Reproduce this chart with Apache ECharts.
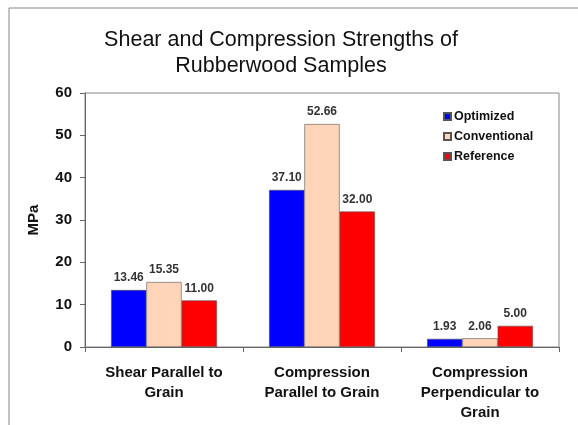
<!DOCTYPE html>
<html><head><meta charset="utf-8">
<script src="https://cdn.jsdelivr.net/npm/echarts@6/dist/echarts.min.js"></script>
<style>html,body{margin:0;padding:0;background:#fff}#c{width:578px;height:425px}</style>
</head><body><div id="c"></div>
<script>
const categories = ["Shear Parallel to\nGrain", "Compression\nParallel to Grain", "Compression\nPerpendicular to\nGrain"];
const optimized = [13.46, 37.10, 1.93];
const conventional = [15.35, 52.66, 2.06];
const reference = [11.00, 32.00, 5.00];
const seriesNames = ["Optimized", "Conventional", "Reference"];
const colors = ["#0000FF", "#FFD4B8", "#FF0000"];

const F = 'Liberation Sans, Arial';
const chart = echarts.init(document.getElementById('c'), null, {renderer: 'canvas'});
const lbl = {show: true, position: 'top', distance: 6, fontFamily: F, fontSize: 12, fontWeight: 'bold', color: '#333', formatter: p => p.value.toFixed(2)};
function mk(name, data, color) {
  return {name, type: 'bar', data, barGap: '0%', barCategoryGap: '33%',
    itemStyle: {color, borderColor: '#555', borderWidth: 0.6}, label: lbl};
}
chart.setOption({
  animation: false,
  backgroundColor: '#fff',
  title: {text: 'Shear and Compression Strengths of\nRubberwood Samples', left: 276, top: 22, textAlign: 'center',
    textStyle: {fontFamily: F, fontSize: 21.5, fontWeight: 'normal', color: '#111', lineHeight: 26}},
  graphic: [{type: 'rect', shape: {x: 9, y: 8, width: 600, height: 450}, style: {fill: 'none', stroke: '#888', lineWidth: 1}, silent: true}],
  legend: {orient: 'vertical', left: 438, top: 105, itemWidth: 7, itemHeight: 7, itemGap: 7,
    data: seriesNames, icon: 'rect',
    textStyle: {fontFamily: F, fontSize: 12.5, fontWeight: 'bold', color: '#111', padding: [0, 0, 0, -2]}},
  grid: {left: 85, top: 93, width: 474, height: 254, show: true, borderColor: '#888', borderWidth: 1},
  xAxis: {type: 'category', data: categories,
    axisLine: {lineStyle: {color: '#666'}},
    axisTick: {show: true, alignWithLabel: false, length: 5, lineStyle: {color: '#666'}},
    axisLabel: {interval: 0, margin: 16, fontFamily: F, fontSize: 15, fontWeight: 'bold', color: '#111', lineHeight: 20, align: 'center'}},
  yAxis: {type: 'value', min: 0, max: 60, interval: 10, name: 'MPa', nameLocation: 'middle', nameGap: 44,
    nameTextStyle: {fontFamily: F, fontSize: 15, fontWeight: 'bold', color: '#111'},
    axisLine: {show: true, lineStyle: {color: '#666'}},
    axisTick: {show: true, length: 5, lineStyle: {color: '#666'}},
    splitLine: {show: false},
    axisLabel: {margin: 13, fontFamily: F, fontSize: 15, fontWeight: 'bold', color: '#111'}},
  series: [mk(seriesNames[0], optimized, colors[0]), mk(seriesNames[1], conventional, colors[1]), mk(seriesNames[2], reference, colors[2])]
});
</script></body></html>
